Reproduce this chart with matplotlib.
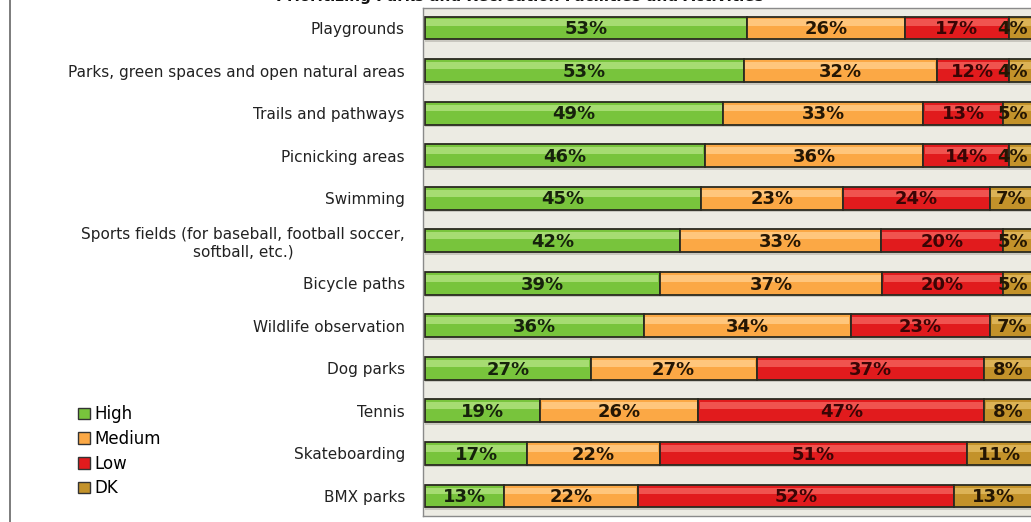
import numpy as np
from matplotlib import pyplot as plt
from matplotlib.patches import Patch
from matplotlib.lines import Line2D
from matplotlib.transforms import ScaledTranslation

# data
categories = ['Playgrounds',
              'Parks, green spaces and open natural areas',
              'Trails and pathways',
              'Picnicking areas',
              'Swimming',
              'Sports fields (for baseball, football soccer,\nsoftball, etc.)',
              'Bicycle paths',
              'Wildlife observation',
              'Dog parks',
              'Tennis',
              'Skateboarding',
              'BMX parks']
high = [53, 53, 49, 46, 45, 42, 39, 36, 27, 19, 17, 13]
medium = [26, 32, 33, 36, 23, 33, 37, 34, 27, 26, 22, 22]
low = [17, 12, 13, 14, 24, 20, 20, 23, 37, 47, 51, 52]
dk = [4, 4, 5, 4, 7, 5, 5, 7, 8, 8, 11, 13]
series_names = ['High', 'Medium', 'Low', 'DK']

colors = ['#78c43c', '#fba845', '#e11b1d', '#c3922a']
light = ['#a6dc72', '#ffc67c', '#f0534f', '#dcb356']
txt_colors = ['#16220c', '#241604', '#3a0505', '#241603']

W, H = 1031, 522
fig = plt.figure(figsize=(W / 100, H / 100), dpi=100)
ax = fig.add_axes([423 / W, 1 - 516 / H, 613 / W, 508 / H])
ax.set_facecolor('#ecebe3')

y = np.arange(len(categories))
data = np.array([high, medium, low, dk], dtype=float)
# 100% stacked: each row scaled to its own total
shares = data / data.sum(axis=0) * 100
left = np.zeros(len(categories))
bh = 0.54
labels = []
for k in range(len(data)):
    vals = shares[k]
    # soft shadow under bar
    ax.barh(y + 0.06, vals, left=left, height=bh, color='#c9c7bf', zorder=1)
    ax.barh(y, vals, left=left, height=bh, color=colors[k],
            edgecolor='#2a2a20', linewidth=1.3, zorder=2)
    # glossy highlight on the upper part
    ax.barh(y - bh * 0.22, vals - 0.4, left=left + 0.2, height=bh * 0.3,
            color=light[k], linewidth=0, zorder=3)
    for i, v in enumerate(vals):
        t = ax.text(left[i] + v / 2, y[i] + 0.03, '%d%%' % data[k][i], ha='center', va='center',
                    fontsize=13, fontweight='bold', color=txt_colors[k], zorder=4)
        labels.append(t)
    left += vals

ax.set_xlim(-0.3, 100.5)
ax.set_ylim(len(categories) - 0.53, -0.47)
ax.set_xticks([])
ax.set_yticks(y)
ax.set_yticklabels(categories, fontsize=11, color='#222222')
for lbl in ax.get_yticklabels():
    lbl.set_multialignment('center')
ax.tick_params(axis='y', length=0, pad=13)
for s in ax.spines.values():
    s.set_color('#8a8a8a')
    s.set_linewidth(1)

# keep the labels inside the visible area, like the original does
fig.canvas.draw()
r = fig.canvas.get_renderer()
for t in labels:
    bb = t.get_window_extent(renderer=r)
    over = bb.x1 - (W - 3)
    if over > 0:
        t.set_transform(t.get_transform() + ScaledTranslation(-over / 100, 0, fig.dpi_scale_trans))

handles = [Patch(facecolor=c, edgecolor='#333333', linewidth=1) for c in colors]
fig.legend(handles, series_names, loc='upper left',
           bbox_to_anchor=(70 / W, 1 - 397 / H), frameon=False, fontsize=12,
           handlelength=0.7, handleheight=0.7, handletextpad=0.25,
           labelspacing=0.4, borderpad=0)

fig.text(520 / W, 1 - 1 / H, 'Prioritizing Parks and Recreation Facilities and Activities',
         ha='center', va='baseline', fontsize=11, fontweight='bold', color='#111111')

fig.add_artist(Line2D([10 / W, 10 / W], [0, 1], color='#666666', linewidth=1.2,
                      transform=fig.transFigure))

fig.savefig('out.png', dpi=100)
